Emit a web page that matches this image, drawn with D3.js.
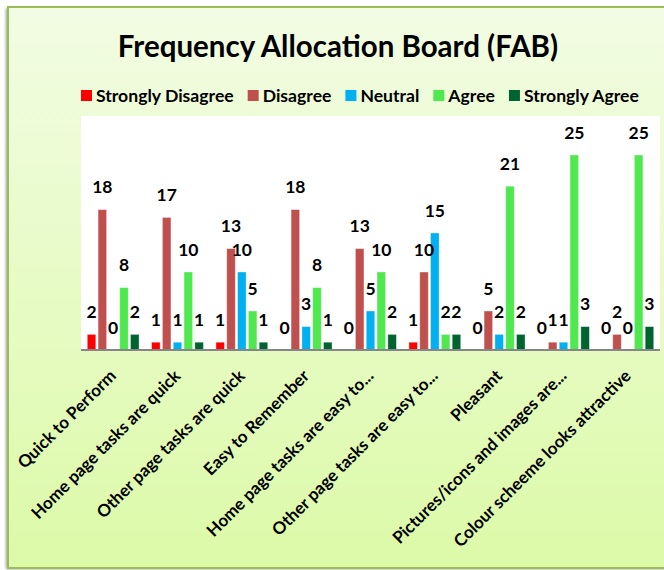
<!DOCTYPE html>
<html>
<head>
<meta charset="utf-8">
<script src="https://cdn.jsdelivr.net/npm/d3@7"></script>
<style>
  html, body { margin: 0; padding: 0; background: #ffffff; }
  svg { display: block; }
  text { font-family: Lato, "Open Sans", sans-serif; font-weight: bold; fill: #000; }
</style>
</head>
<body>
<svg id="chart" width="664" height="570"></svg>
<script>
// Survey categories (as shown on the axis)
const categories = [
  "Quick to Perform",
  "Home page tasks are quick",
  "Other page tasks are quick",
  "Easy to Remember",
  "Home page tasks are easy to...",
  "Other page tasks are easy to...",
  "Pleasant",
  "Pictures/icons and images are...",
  "Colour scheeme looks attractive"
];

// Response series
const seriesNames = ["Strongly Disagree", "Disagree", "Neutral", "Agree", "Strongly Agree"];
const seriesColors = ["#FF0000", "#C0504D", "#00B0F0", "#4FE84F", "#006430"];

const stronglyDisagree = [2, 1, 1, 0, 0, 1, 0, 0, 0];
const disagree         = [18, 17, 13, 18, 13, 10, 5, 1, 2];
const neutral          = [0, 1, 10, 3, 5, 15, 2, 1, 0];
const agree            = [8, 10, 5, 8, 10, 2, 21, 25, 25];
const stronglyAgree    = [2, 1, 1, 1, 2, 2, 2, 3, 3];

const seriesValues = [stronglyDisagree, disagree, neutral, agree, stronglyAgree];
const yMax = 30;

const svg = d3.select("#chart");
const defs = svg.append("defs");

// Background gradient of the chart frame
const grad = defs.append("linearGradient").attr("id", "bg").attr("x1", 0).attr("y1", 0).attr("x2", 0).attr("y2", 1);
grad.append("stop").attr("offset", "0%").attr("stop-color", "#F2FCE3");
grad.append("stop").attr("offset", "100%").attr("stop-color", "#DCFAA8");

const shadow = defs.append("filter").attr("id", "shadow").attr("x", "-5%").attr("y", "-5%").attr("width", "110%").attr("height", "110%");
shadow.append("feGaussianBlur").attr("stdDeviation", 1.5);

// Frame
svg.append("rect").attr("x", 6).attr("y", 8).attr("width", 680).attr("height", 561)
  .attr("fill", "#9a9a9a").attr("filter", "url(#shadow)");
svg.append("rect").attr("x", 8).attr("y", 7).attr("width", 680).attr("height", 561)
  .attr("fill", "url(#bg)").attr("stroke", "#9BBB59").attr("stroke-width", 2);

// Title
svg.append("text")
  .attr("x", 338).attr("y", 57)
  .attr("text-anchor", "middle")
  .style("font-size", "29.5px")
  .text("Frequency Allocation Board (FAB)");

// Plot area
const plot = { left: 81, right: 660, top: 116, bottom: 350 };
svg.append("rect")
  .attr("x", plot.left).attr("y", plot.top)
  .attr("width", plot.right - plot.left).attr("height", plot.bottom - plot.top)
  .attr("fill", "#ffffff");

const x0 = d3.scaleBand().domain(categories).range([plot.left, plot.right]).padding(0);
const x1 = d3.scaleBand().domain(seriesNames).range([0, x0.bandwidth()])
  .paddingInner(0.21).paddingOuter(0.58);
const y = d3.scaleLinear().domain([0, yMax]).range([plot.bottom, plot.top]);

// Legend
const legend = svg.append("g").attr("transform", "translate(0,102)");
let lx = 81;
seriesNames.forEach((name, i) => {
  const g = legend.append("g").attr("transform", `translate(${lx},0)`);
  g.append("rect").attr("x", 0).attr("y", -12).attr("width", 11).attr("height", 11).attr("fill", seriesColors[i]);
  const t = g.append("text").attr("x", 15).attr("y", 0).style("font-size", "17.6px").text(name);
  lx += 15 + t.node().getComputedTextLength() + 14;
});

// Bars and value labels
const groups = svg.append("g").selectAll("g")
  .data(categories)
  .join("g")
  .attr("transform", d => `translate(${x0(d)},0)`);

groups.each(function(cat, ci) {
  const g = d3.select(this);
  seriesNames.forEach((s, si) => {
    const v = seriesValues[si][ci];
    g.append("rect")
      .attr("x", x1(s))
      .attr("y", y(v))
      .attr("width", x1.bandwidth())
      .attr("height", y(0) - y(v))
      .attr("fill", seriesColors[si])
      .attr("stroke", "rgba(255,255,255,0.45)")
      .attr("stroke-width", 0.8);
  });
  seriesNames.forEach((s, si) => {
    const v = seriesValues[si][ci];
    g.append("text")
      .attr("x", x1(s) + x1.bandwidth() / 2)
      .attr("y", y(v) - 16.5)
      .attr("text-anchor", "middle")
      .style("font-size", "17.5px")
      .text(v);
  });
});

// Category axis
const xAxis = svg.append("g").attr("transform", `translate(0,${plot.bottom})`);
xAxis.append("line")
  .attr("x1", plot.left).attr("x2", plot.right)
  .attr("y1", 0).attr("y2", 0)
  .attr("stroke", "#868686").attr("stroke-width", 2);

xAxis.selectAll("text.cat")
  .data(categories)
  .join("text")
  .attr("class", "cat")
  .attr("text-anchor", "end")
  .style("font-size", "17px")
  .attr("transform", d => `translate(${x0(d) + x0.bandwidth() / 2 + 4},${27}) rotate(-45)`)
  .text(d => d);
</script>
</body>
</html>
